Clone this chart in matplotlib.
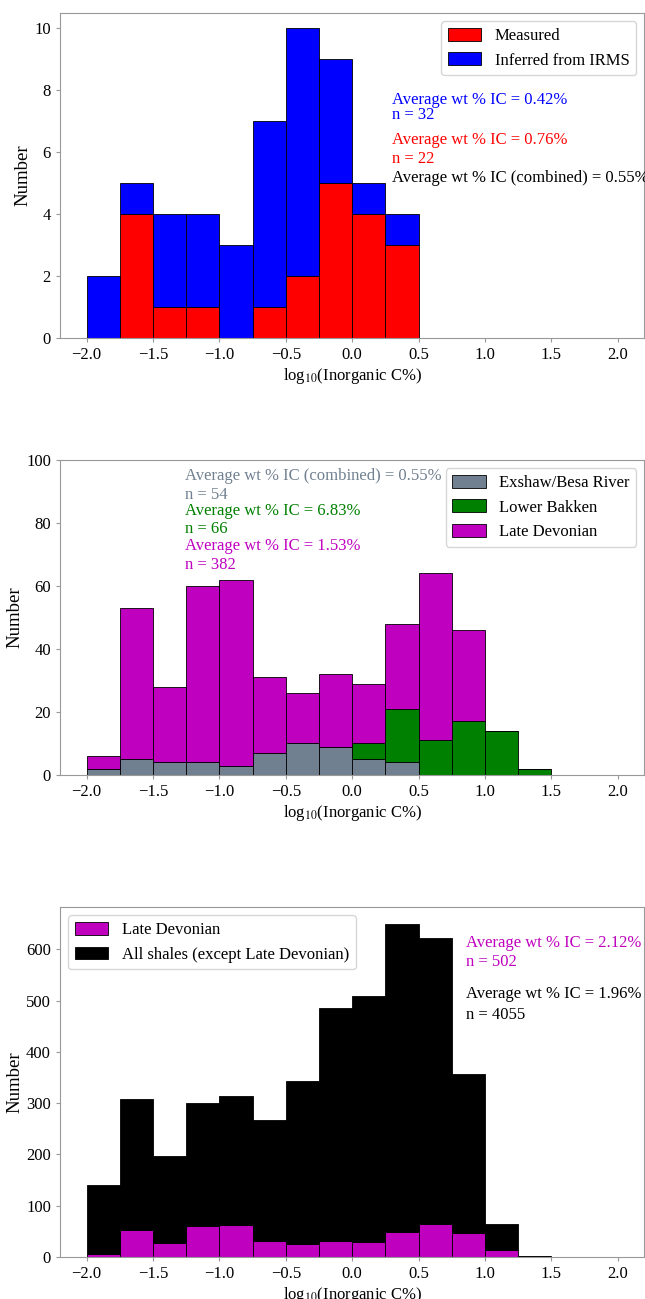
import numpy as np
import matplotlib
matplotlib.use("Agg")
import matplotlib.pyplot as plt

plt.rcParams['font.family'] = ['Liberation Serif', 'DejaVu Serif']
plt.rcParams['mathtext.fontset'] = 'stix'
plt.rcParams['font.size'] = 12

# bin edges for log10(IC %)
edges = np.arange(-2.0, 2.01, 0.25)

# panel 1: Exshaw/Besa River counts
measured = [0, 4, 1, 1, 0, 1, 2, 5, 4, 3, 0, 0, 0, 0, 0, 0]
inferred = [2, 1, 3, 3, 3, 6, 8, 4, 1, 1, 0, 0, 0, 0, 0, 0]

# panel 2: Late Devonian breakdown
exshaw = [2, 5, 4, 4, 3, 7, 10, 9, 5, 4, 0, 0, 0, 0, 0, 0]
bakken = [0, 0, 0, 0, 0, 0, 0, 0, 5, 17, 11, 17, 14, 2, 0, 0]
late_dev = [4, 48, 24, 56, 59, 24, 16, 23, 19, 27, 53, 29, 0, 0, 0, 0]

# panel 3: Late Devonian vs all other shales
late_dev_all = [6, 53, 28, 60, 62, 31, 26, 32, 29, 48, 64, 46, 14, 2, 0, 0]
other_shales = [134, 256, 170, 241, 252, 237, 317, 453, 481, 602, 558, 311, 51, 1, 0, 0]

xticks = [-2.0, -1.5, -1.0, -0.5, 0.0, 0.5, 1.0, 1.5, 2.0]
xlabel = 'log$_{10}$(Inorganic C%)'


def stacked(ax, series, colors, labels):
    bottom = np.zeros(len(edges) - 1)
    for vals, c, lab in zip(series, colors, labels):
        vals = np.array(vals, dtype=float)
        ax.bar(edges[:-1], vals, width=np.diff(edges), bottom=bottom, align='edge',
               color=c, edgecolor='black', linewidth=0.6, label=lab)
        bottom += vals


def style(ax):
    for s in ax.spines.values():
        s.set_color('0.6')
    ax.tick_params(colors='0.6', labelcolor='black', length=3, labelsize=12)
    ax.set_xlim(-2.2, 2.2)
    ax.set_xticks(xticks)
    ax.set_xlabel(xlabel, fontsize=12, labelpad=2)
    ax.set_ylabel('Number', fontsize=13.5, labelpad=2)


fig = plt.figure(figsize=(6.45, 12.99), dpi=100)
ax1 = fig.add_axes([0.093, 0.7398, 0.906, 0.2502])
ax2 = fig.add_axes([0.093, 0.4034, 0.906, 0.2425])
ax3 = fig.add_axes([0.093, 0.0323, 0.906, 0.2694])

# top
stacked(ax1, [measured, inferred], ['red', 'blue'], ['Measured', 'Inferred from IRMS'])
style(ax1)
ax1.legend(loc='upper right', fontsize=12, handleheight=0.8)
ax1.text(0.3, 7.68, 'Average wt % IC = 0.42%', color='blue', va='center')
ax1.text(0.3, 7.19, 'n = 32', color='blue', va='center')
ax1.text(0.3, 6.39, 'Average wt % IC = 0.76%', color='red', va='center')
ax1.text(0.3, 5.77, 'n = 22', color='red', va='center')
ax1.text(0.3, 5.16, 'Average wt % IC (combined) = 0.55%', color='black', va='center')

# middle
stacked(ax2, [exshaw, bakken, late_dev], ['slategray', 'green', 'm'],
        ['Exshaw/Besa River', 'Lower Bakken', 'Late Devonian'])
style(ax2)
ax2.set_ylim(0, 100)
ax2.legend(loc='upper right', fontsize=12, handleheight=0.8)
mid_txt = [('Average wt % IC (combined) = 0.55%', 'slategray', 95.0),
           ('n = 54', 'slategray', 89.0),
           ('Average wt % IC = 6.83%', 'green', 83.7),
           ('n = 66', 'green', 78.1),
           ('Average wt % IC = 1.53%', 'm', 72.7),
           ('n = 382', 'm', 66.8)]
for t, c, y in mid_txt:
    ax2.text(-1.26, y, t, color=c, va='center')

# bottom
stacked(ax3, [late_dev_all, other_shales], ['m', 'black'],
        ['Late Devonian', 'All shales (except Late Devonian)'])
style(ax3)
ax3.legend(loc='upper left', fontsize=12, handleheight=0.8)
ax3.text(0.86, 612, 'Average wt % IC = 2.12%', color='m', va='center')
ax3.text(0.86, 575, 'n = 502', color='m', va='center')
ax3.text(0.86, 513, 'Average wt % IC = 1.96%', color='black', va='center')
ax3.text(0.86, 472, 'n = 4055', color='black', va='center')

fig.savefig('out.png', dpi=100)
